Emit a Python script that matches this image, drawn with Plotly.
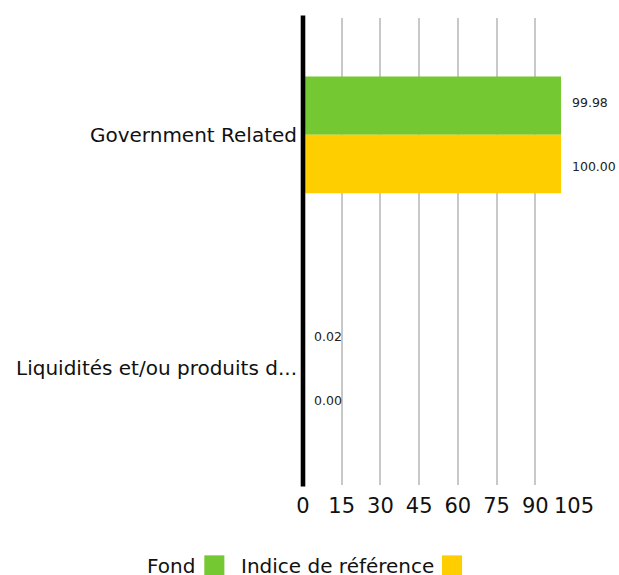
import plotly.graph_objects as go

categories = ["Government Related", "Liquidités et/ou produits d..."]
fond = [99.98, 0.02]
indice = [100.00, 0.00]
fond_labels = ["99.98", "0.02"]
indice_labels = ["100.00", "0.00"]
tick_vals = [0, 15, 30, 45, 60, 75, 90, 105]

GREEN = "#74C932"
YELLOW = "#FFCE00"
FONT = "DejaVu Sans"

W, H = 619, 575
X0S, X1S, Y0S, Y1S = 303.4, 573.6, 17.5, 485.5   # plot area in pixels
L, T = X0S, Y0S
R = W - X1S
B = H - Y1S
PW, PH = W - L - R, H - T - B


def px(x):
    return (x - X0S) / PW


def py(y):
    return (Y1S - y) / PH


fig = go.Figure()
fig.add_trace(go.Bar(y=categories, x=fond, orientation="h", name="Fond",
                     marker=dict(color=GREEN, line=dict(width=0))))
fig.add_trace(go.Bar(y=categories, x=indice, orientation="h", name="Indice de référence",
                     marker=dict(color=YELLOW, line=dict(width=0))))

annotations = []
for i, c in enumerate(categories):
    annotations.append(dict(x=fond[i], y=c, text=fond_labels[i], xref="x", yref="y",
                            showarrow=False, xanchor="left", xshift=9, yshift=32,
                            font=dict(family=FONT, size=12.5, color="#222")))
    annotations.append(dict(x=indice[i], y=c, text=indice_labels[i], xref="x", yref="y",
                            showarrow=False, xanchor="left", xshift=9, yshift=-32,
                            font=dict(family=FONT, size=12.5, color="#222")))

# custom legend (text followed by swatch)
annotations.append(dict(x=px(198), y=py(567), xref="paper", yref="paper", text="Fond",
                        showarrow=False, xanchor="right", yanchor="middle",
                        font=dict(family=FONT, size=20, color="#111")))
annotations.append(dict(x=px(436), y=py(567), xref="paper", yref="paper", text="Indice de référence",
                        showarrow=False, xanchor="right", yanchor="middle",
                        font=dict(family=FONT, size=20, color="#111")))

shapes = [
    # black baseline at x = 0 (left edge of the plot area)
    dict(type="line", xref="paper", yref="paper", x0=0, x1=0, y0=py(487), y1=py(15),
         line=dict(color="black", width=4.6), layer="above"),
    dict(type="rect", xref="paper", yref="paper", x0=px(205), x1=px(225),
         y0=py(585), y1=py(556), fillcolor=GREEN, line=dict(width=0)),
    dict(type="rect", xref="paper", yref="paper", x0=px(442), x1=px(462),
         y0=py(585), y1=py(556), fillcolor=YELLOW, line=dict(width=0)),
]

fig.update_layout(
    width=W, height=H,
    margin=dict(l=L, r=R, t=T, b=B),
    paper_bgcolor="white", plot_bgcolor="white",
    barmode="group", bargap=0.5, bargroupgap=0,
    showlegend=False,
    annotations=annotations,
    shapes=shapes,
    font=dict(family=FONT, color="#111"),
    xaxis=dict(range=[0, 105], tickvals=tick_vals, showgrid=True, gridcolor="#c8c8c8",
               gridwidth=2, zeroline=False, showline=False, ticks="", automargin=False,
               ticklabelstandoff=6,
               tickfont=dict(family=FONT, size=21, color="#111")),
    yaxis=dict(autorange="reversed", showline=False,
               ticks="", showgrid=False, zeroline=False, ticklabelstandoff=5,
               automargin=False,
               tickfont=dict(family=FONT, size=20, color="#111")),
)

fig.write_html(
    "out.html",
    config={"displayModeBar": False},
    post_script="document.body.style.margin='0';"
                "document.documentElement.style.overflow='hidden';",
)
